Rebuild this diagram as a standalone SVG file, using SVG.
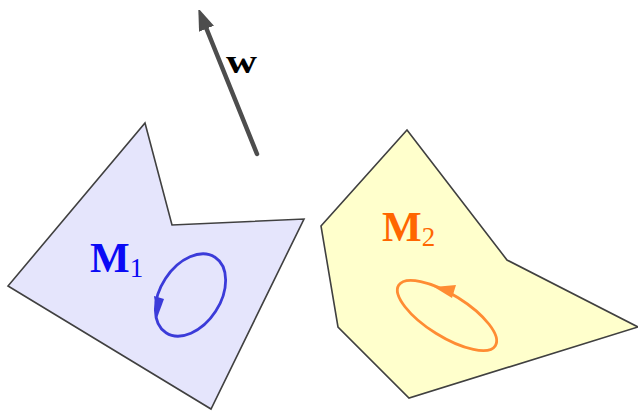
<svg xmlns="http://www.w3.org/2000/svg" width="638" height="415" viewBox="0 0 638 415">
<style>
.poly{stroke:#404040;stroke-width:1.6;stroke-linejoin:miter}
.lbl{font-family:"Liberation Serif","DejaVu Serif",serif;font-weight:bold}
.loop{fill:none;stroke-width:2.8}
</style>
<defs>
<marker id="wa" markerUnits="userSpaceOnUse" markerWidth="20" markerHeight="20" viewBox="0 0 20 20" refX="4" refY="10" orient="auto">
<path d="M0,2 L22,10 L0,18 Z" fill="#4d4d4d"/>
</marker>
</defs>
<g id="M1">
<polygon class="poly" fill="#e5e5fc" points="145,123 172,225 304,219 211,409 8,286"/>
<ellipse class="loop" stroke="#3b3bd9" cx="190.5" cy="295" rx="45" ry="30" transform="rotate(-57 190.5 295)"/>
<path d="M154,296 L164,299 L157,318 Z" fill="#3b3bd9"/>
<text class="lbl" x="90" y="272" font-size="42" fill="#0a0af5">M<tspan font-size="27" font-weight="normal" dy="5">1</tspan></text>
</g>
<g id="M2">
<polygon class="poly" fill="#ffffcc" points="407,130 507,260 638,327 409,398 338,327 321,226"/>
<ellipse class="loop" stroke="#ff8c33" cx="447" cy="315.5" rx="57" ry="21" transform="rotate(32 447 315.5)"/>
<path d="M434,287 L456,285 L452,298 Z" fill="#ff8c33"/>
<text class="lbl" x="382" y="241" font-size="42" fill="#ff6600">M<tspan font-size="27" font-weight="normal" dy="5">2</tspan></text>
</g>
<g id="connectors">
<line x1="257" y1="154" x2="205" y2="25" stroke="#4d4d4d" stroke-width="4.5" stroke-linecap="round" marker-end="url(#wa)"/>
<text class="lbl" x="226" y="73" font-size="34" fill="#000" textLength="31" lengthAdjust="spacingAndGlyphs">w</text>
</g>
</svg>
